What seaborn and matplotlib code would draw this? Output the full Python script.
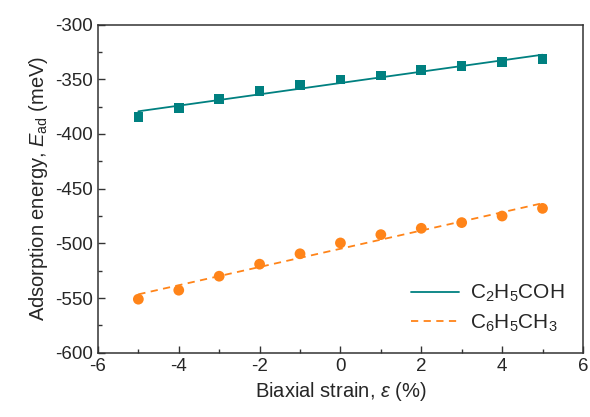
"""Adsorption energy vs biaxial strain for two molecules, with linear fits."""

import matplotlib
matplotlib.use("Agg")
import matplotlib.pyplot as plt
from matplotlib.ticker import MultipleLocator
import numpy as np
import pandas as pd
import seaborn as sns

strain = [-5, -4, -3, -2, -1, 0, 1, 2, 3, 4, 5]
e_c2h5coh = [-384.7, -376.2, -368.0, -360.7, -355.2, -350.3, -346.6, -341.4, -338.1, -334.4, -331.7]
e_c6h5ch3 = [-551.0, -542.8, -530.0, -519.0, -509.5, -499.6, -492.0, -486.2, -481.0, -475.0, -468.0]
labels = [r"C$_2$H$_5$COH", r"C$_6$H$_5$CH$_3$"]

TEAL = "#008080"
ORANGE = "#FF8419"

sns.set_theme(style="ticks")
plt.rcParams["font.family"] = ["Liberation Sans", "DejaVu Sans"]
plt.rcParams["mathtext.fontset"] = "custom"
plt.rcParams["mathtext.rm"] = "Liberation Sans"
plt.rcParams["mathtext.it"] = "Liberation Sans:italic"
plt.rcParams["axes.unicode_minus"] = False

df = pd.DataFrame({"strain": strain, "a": e_c2h5coh, "b": e_c6h5ch3})

fig = plt.figure(figsize=(5.9, 4.17), dpi=100)
ax = fig.add_axes([0.166, 0.154, 0.822, 0.787])

sns.scatterplot(data=df, x="strain", y="a", marker="s", s=48, color=TEAL,
                edgecolor="none", legend=False, ax=ax, zorder=3)
sns.scatterplot(data=df, x="strain", y="b", marker="o", s=60, color=ORANGE,
                edgecolor="none", legend=False, ax=ax, zorder=3)
sns.regplot(data=df, x="strain", y="a", scatter=False, ci=None, color=TEAL,
            line_kws={"lw": 1.3}, ax=ax)
sns.regplot(data=df, x="strain", y="b", scatter=False, ci=None, color=ORANGE,
            line_kws={"lw": 1.3, "ls": (0, (4, 3))}, ax=ax)

ax.set_xlim(-6, 6)
ax.set_ylim(-600, -300)
ax.xaxis.set_major_locator(MultipleLocator(2))
ax.xaxis.set_minor_locator(MultipleLocator(1))
ax.yaxis.set_major_locator(MultipleLocator(50))
ax.yaxis.set_minor_locator(MultipleLocator(25))
ax.tick_params(which="both", direction="in", top=False, right=False,
               labelsize=13.5, color="#333333", width=1)
ax.tick_params(which="major", length=5)
ax.tick_params(which="minor", length=3)
for s in ax.spines.values():
    s.set_linewidth(1.1)
    s.set_color("#333333")

ax.set_xlabel(r"Biaxial strain, $\varepsilon$ (%)", fontsize=14.5)
ax.set_ylabel(r"Adsorption energy, $E_{\rm ad}$ (meV)", fontsize=14.5)

fit_lines = ax.get_lines()[-2:]
ax.legend(fit_lines, labels, loc="lower right", frameon=False, fontsize=15,
          handlelength=2.3, handletextpad=0.5, borderaxespad=0.5,
          labelspacing=0.4)

fig.savefig("out.png", dpi=100)
